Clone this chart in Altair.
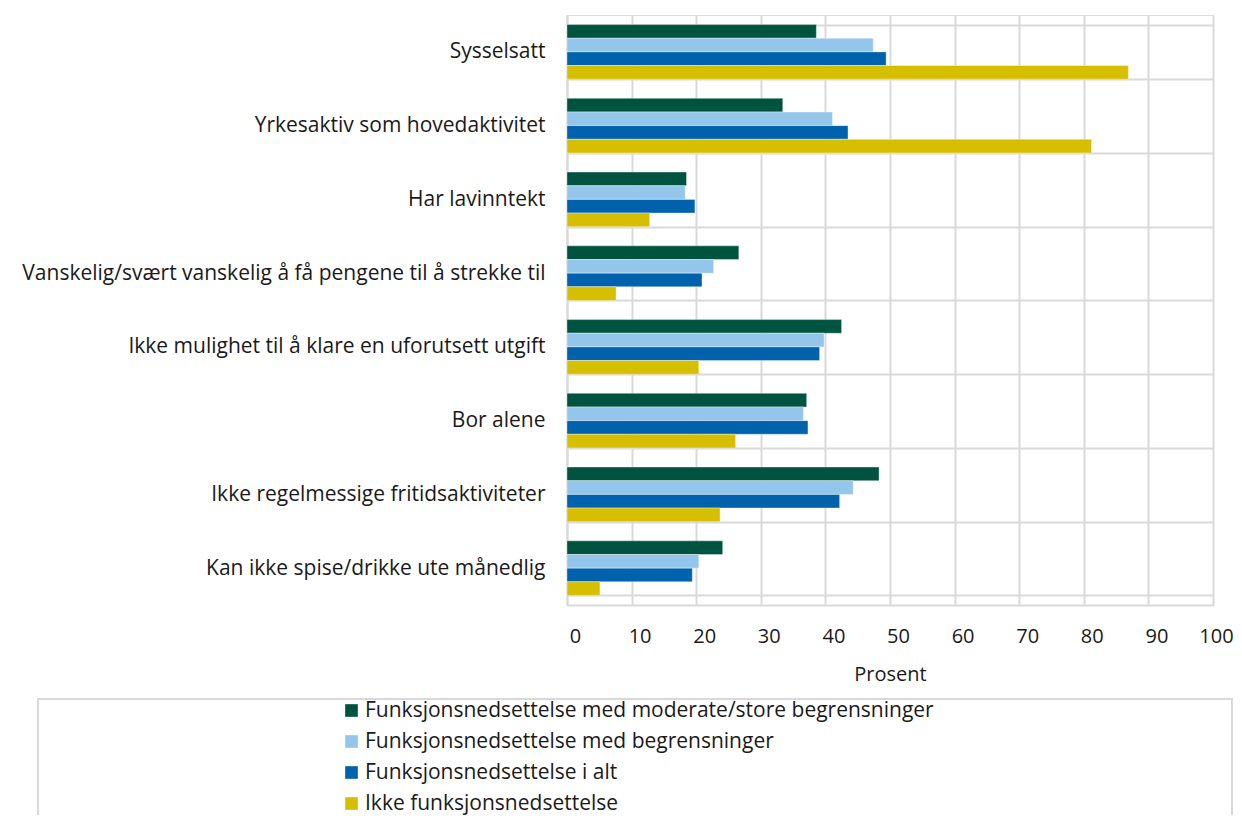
import altair as alt
import pandas as pd

categories = [
    "Sysselsatt",
    "Yrkesaktiv som hovedaktivitet",
    "Har lavinntekt",
    "Vanskelig/svært vanskelig å få pengene til å strekke til",
    "Ikke mulighet til å klare en uforutsett utgift",
    "Bor alene",
    "Ikke regelmessige fritidsaktiviteter",
    "Kan ikke spise/drikke ute månedlig",
]
series = [
    "Funksjonsnedsettelse med moderate/store begrensninger",
    "Funksjonsnedsettelse med begrensninger",
    "Funksjonsnedsettelse i alt",
    "Ikke funksjonsnedsettelse",
]
colors = ["#00533f", "#93c6ea", "#0062ad", "#d6bf00"]

moderate_store = [38.6, 33.4, 18.5, 26.6, 42.5, 37.1, 48.3, 24.1]
med_begr = [47.4, 41.1, 18.3, 22.7, 39.8, 36.6, 44.3, 20.4]
i_alt = [49.4, 43.5, 19.8, 20.9, 39.1, 37.3, 42.2, 19.4]
ikke = [86.9, 81.2, 12.8, 7.6, 20.4, 26.1, 23.7, 5.1]
x_ticks = [0, 10, 20, 30, 40, 50, 60, 70, 80, 90, 100]

rows = []
for s, vals in zip(series, [moderate_store, med_begr, i_alt, ikke]):
    for c, v in zip(categories, vals):
        rows.append({"kategori": c, "serie": s, "verdi": v})
df = pd.DataFrame(rows)

FONT = "Open Sans"
TXT = "#1a1a1a"
GRID = "#d9d9d9"
W, H = 646, 590

bars = alt.Chart(df).mark_bar(stroke="white", strokeWidth=0.6, strokeOpacity=0.6).encode(
    y=alt.Y(
        "kategori:N",
        sort=categories,
        scale=alt.Scale(paddingInner=0.26, paddingOuter=0.13),
        axis=alt.Axis(
            title=None,
            tickBand="extent",
            grid=True,
            gridColor=GRID,
            gridWidth=2,
            ticks=False,
            domain=True,
            domainColor=GRID,
            domainWidth=2,
            labelFont=FONT,
            labelFontSize=21,
            labelColor=TXT,
            labelPadding=22,
            labelLimit=800,
        ),
    ),
    yOffset=alt.YOffset("serie:N", sort=series),
    x=alt.X(
        "verdi:Q",
        scale=alt.Scale(domain=[0, 100], nice=False),
        axis=alt.Axis(
            title="Prosent",
            values=x_ticks,
            grid=True,
            gridColor=GRID,
            gridWidth=2,
            ticks=False,
            domain=True,
            domainColor=GRID,
            domainWidth=2,
            labelFont=FONT,
            labelFontSize=20,
            labelColor=TXT,
            labelPadding=21,
            labelOffset={"condition": {"test": "datum.value == 100", "value": 3}, "value": 8},
            labelFlush=False,
            titleFont=FONT,
            titleFontSize=20,
            titleFontWeight="normal",
            titleColor=TXT,
            titlePadding=18,
        ),
    ),
    color=alt.Color(
        "serie:N",
        sort=series,
        scale=alt.Scale(domain=series, range=colors),
        legend=alt.Legend(
            title=None,
            orient="none",
            legendX=-226,
            legendY=685,
            direction="vertical",
            symbolType="square",
            symbolSize=160,
            symbolStrokeWidth=0,
            symbolOpacity=1,
            labelFont=FONT,
            labelFontSize=21,
            labelColor=TXT,
            labelOffset=3,
            labelLimit=900,
            rowPadding=9,
        ),
    ),
)

frame_df = pd.DataFrame({"k": [0]})
frame = alt.Chart(frame_df).mark_rect(
    fill=None, stroke=GRID, strokeWidth=2, clip=False
).encode(
    x=alt.value(38 - 567),
    x2=alt.value(1232 - 567),
    y=alt.value(699 - 15),
    y2=alt.value(860 - 15),
)

chart = (
    alt.layer(frame, bars)
    .properties(
        width=W,
        height=H,
        autosize=alt.AutoSizeParams(type="none"),
        padding={"left": 559, "top": 7, "right": 21, "bottom": 210},
    )
    .configure_view(stroke=GRID, strokeWidth=2)
    .configure(background="white")
)

chart.save("out.html", embed_options={"renderer": "svg", "actions": False})
